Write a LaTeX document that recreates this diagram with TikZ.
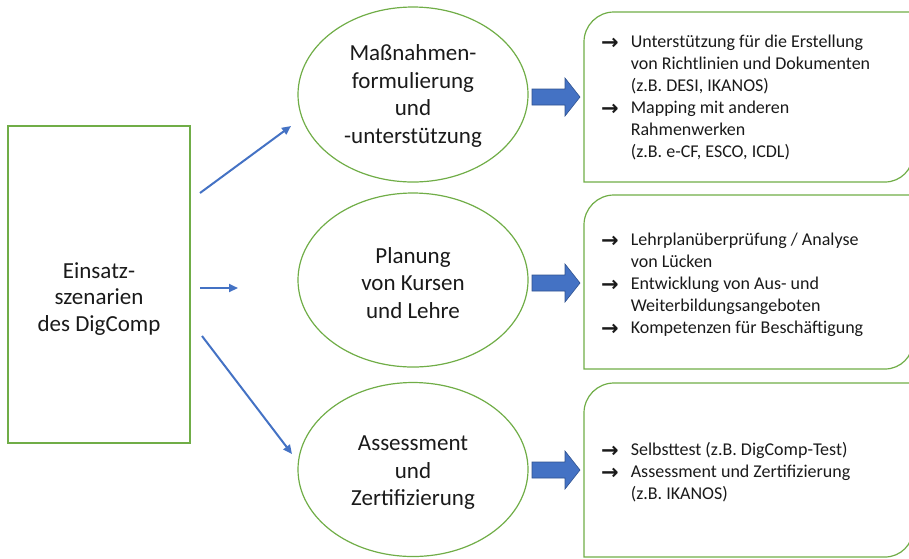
\documentclass[tikz,border=0pt]{standalone}
\usepackage{fontspec}
\setmainfont{Carlito}
\newfontfamily\arrowfont{DejaVu Sans}
\usetikzlibrary{shapes.geometric,arrows.meta}
\definecolor{ogreen}{HTML}{70AD47}
\definecolor{oblue}{HTML}{4472C4}
\definecolor{oblueedge}{HTML}{2F528F}
\definecolor{txt}{HTML}{1A1A1A}
\newcommand\bulletarrow{\raisebox{-1.5pt}{\arrowfont\fontsize{21}{22}\selectfont\bfseries →}}
\newcommand\blockarr[2]{\path[blockarrow] (#1,#2) ++(0,-8) -- ++(33,0) -- ++(0,-11) -- ++(15,19) -- ++(-15,19) -- ++(0,-11) -- ++(-33,0) -- cycle;}
\newcommand\diagbox[2]{\draw[greenline] (584,#2) -- (584,{#1+30}) .. controls (584,{#1+13.4}) and (597.4,#1) .. (614,#1) -- (913,#1) -- (913,{#2-28}) .. controls (913,{#2-12.5}) and (900.5,#2) .. (885,#2) -- cycle;}
\begin{document}
\begin{tikzpicture}[x=1pt,y=-1pt,
  greenline/.style={draw=ogreen, line width=1.2pt},
  oval/.style={ellipse, greenline, minimum width=230pt, minimum height=175pt, inner sep=0pt},
  bigtext/.style={align=center, text=txt, inner sep=0pt, font=\fontsize{23}{27.5}\selectfont},
  thinarrow/.style={draw=oblue, line width=2pt, -{Triangle[length=9pt,width=8pt]}},
  blockarrow/.style={fill=oblue, draw=oblueedge, line width=0.6pt},
  listtext/.style={anchor=north west, inner sep=0pt, text=txt, font=\fontsize{18}{22}\selectfont}]
\useasboundingbox (0,0) rectangle (909,558);

% left box
\node[greenline, minimum width=182pt, minimum height=317pt, inner sep=0pt] (scen) at (99,284.5) {};
\node[bigtext, font=\fontsize{23}{26.5}\selectfont] (scentext) at (99,299) {Einsatz-\\szenarien\\des DigComp};

% ellipses
\node[oval] (e1) at (413,94.5) {};
\node[oval, minimum height=174pt] (e2) at (413,280) {};
\node[oval, minimum height=174pt] (e3) at (413,469.5) {};
\node[bigtext] (e1t) at (413,96) {Maßnahmen-\\formulierung\\und\\-unterstützung};
\node[bigtext] (e2t) at (413,283) {Planung\\von Kursen\\und Lehre};
\node[bigtext] (e3t) at (413,473) {Assessment\\und\\Zertifizierung};

% thin arrows
\coordinate (a1s) at (200,193);
\coordinate (a1e) at (291,126);
\coordinate (a2s) at (200,288);
\coordinate (a2e) at (238,288);
\coordinate (a3s) at (202,336);
\coordinate (a3e) at (292,454);
\draw[thinarrow] (a1s) -- (a1e);
\draw[thinarrow] (a2s) -- (a2e);
\draw[thinarrow] (a3s) -- (a3e);

% block arrows
\blockarr{532}{97}
\blockarr{532}{283}
\blockarr{532}{470}

% right boxes
\diagbox{12}{182}
\diagbox{195}{369}
\diagbox{383}{557}

\node[listtext] (t1) at (601,32) {\begin{tabular}{@{}l@{\hspace{12pt}}l@{}}
\bulletarrow & Unterstützung für die Erstellung\\
 & von Richtlinien und Dokumenten\\
 & (z.B. DESI, IKANOS)\\
\bulletarrow & Mapping mit anderen\\
 & Rahmenwerken\\
 & (z.B. e-CF, ESCO, ICDL)
\end{tabular}};
\node[listtext] (t2) at (601,230) {\begin{tabular}{@{}l@{\hspace{12pt}}l@{}}
\bulletarrow & Lehrplanüberprüfung / Analyse\\
 & von Lücken\\
\bulletarrow & Entwicklung von Aus- und\\
 & Weiterbildungsangeboten\\
\bulletarrow & Kompetenzen für Beschäftigung
\end{tabular}};
\node[listtext] (t3) at (601,440) {\begin{tabular}{@{}l@{\hspace{12pt}}l@{}}
\bulletarrow & Selbsttest (z.B. DigComp-Test)\\
\bulletarrow & Assessment und Zertifizierung\\
 & (z.B. IKANOS)
\end{tabular}};
\end{tikzpicture}
\end{document}
